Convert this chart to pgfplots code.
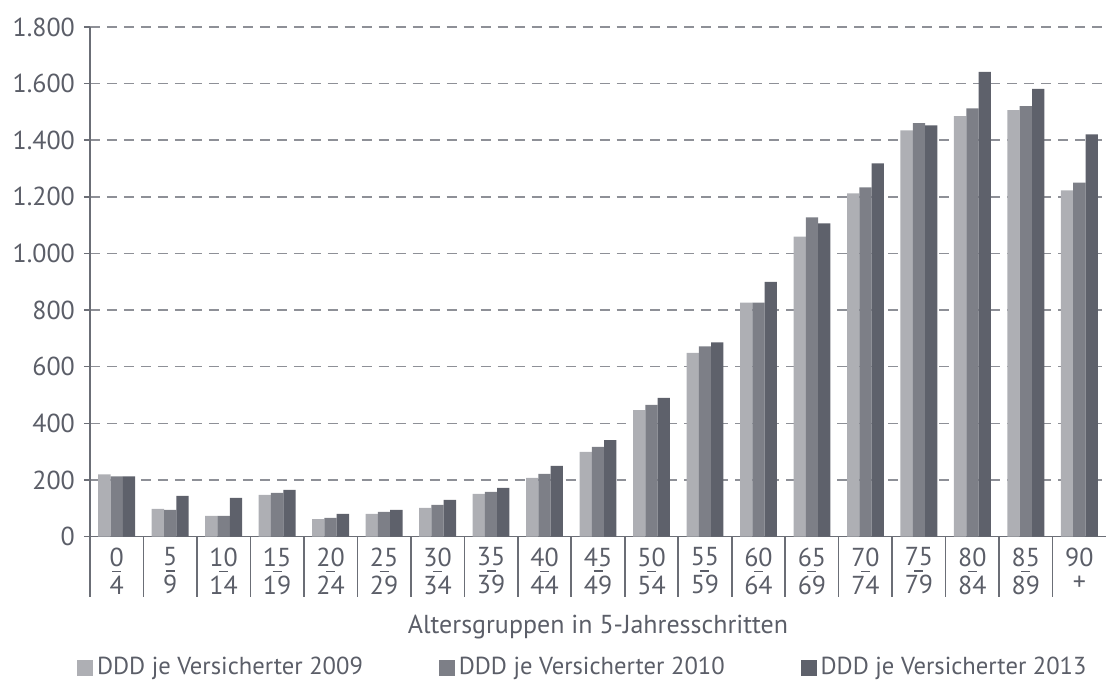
\documentclass[border=0pt]{standalone}
\usepackage{fontspec}
\setmainfont{PT Sans}
\usepackage{pgfplots}
\pgfplotsset{compat=1.18}
\definecolor{c2009}{HTML}{AEAFB4}
\definecolor{c2010}{HTML}{7D7F87}
\definecolor{c2013}{HTML}{5E616B}
\definecolor{txtgrey}{HTML}{5B5E68}
\definecolor{axgrey}{HTML}{6B6E76}
\definecolor{gridgrey}{HTML}{8E9097}

\pgfplotstableread{
x   y2009 y2010 y2013
0   220   213   213
1    98    94   144
2    73    73   137
3   147   154   165
4    62    66    80
5    80    87    94
6   101   112   130
7   151   158   172
8   207   221   250
9   299   317   341
10  447   465   490
11  649   672   686
12  826   826   900
13 1059  1127  1106
14 1212  1233  1318
15 1435  1460  1452
16 1485  1512  1641
17 1506  1520  1581
18 1223  1250  1421
}\ddd

\newcommand{\ag}[2]{#1\\[-11pt]\rule{4.5pt}{0.8pt}\\[-3pt]#2}

\begin{document}
\begin{tikzpicture}[font=\fontsize{13}{14}\selectfont, text=txtgrey]
\begin{axis}[
  scale only axis,
  width=508.5pt, height=255pt,
  clip=false,
  ymin=0, ymax=1800,
  ytick={0,200,...,1800},
  xmin=-0.5, xmax=18.5,
  xtick={0,...,18},
  xticklabels={{\ag{0}{4}},{\ag{5}{9}},{\ag{10}{14}},{\ag{15}{19}},{\ag{20}{24}},
    {\ag{25}{29}},{\ag{30}{34}},{\ag{35}{39}},{\ag{40}{44}},{\ag{45}{49}},
    {\ag{50}{54}},{\ag{55}{59}},{\ag{60}{64}},{\ag{65}{69}},{\ag{70}{74}},
    {\ag{75}{79}},{\ag{80}{84}},{\ag{85}{89}},{90\\[-2pt]+}},
  xticklabel style={align=center, text=txtgrey, yshift=1pt},
  yticklabel style={text=txtgrey, xshift=-1pt},
  /pgf/number format/.cd, 1000 sep={.}, assume math mode=true, /pgfplots/.cd,
  axis x line*=bottom, axis y line*=left,
  axis line style={axgrey, line width=0.9pt},
  tick align=outside,
  major tick length=3pt,
  xtick style={draw=none},
  ytick style={draw=axgrey, line width=0.8pt},
  ymajorgrids,
  major grid style={gridgrey, line width=0.8pt, dash pattern=on 5pt off 3.5pt},
  ybar=0pt, bar width=6.15pt,
  xlabel={Altersgruppen in 5-Jahresschritten},
  xlabel style={at={(axis description cs:0.5,-0.178)}, anchor=center, text=txtgrey},
  legend style={draw=none, fill=none, at={(0.486,-0.257)}, anchor=center,
    legend columns=3, text=txtgrey, font=\fontsize{12.3}{14}\selectfont,
    /tikz/every even column/.append style={column sep=36pt}},
  legend image code/.code={\fill[#1] (0pt,-4pt) rectangle (8pt,4pt);},
]
\addplot[fill=c2009, draw=none] table[x=x, y=y2009] {\ddd};
\addplot[fill=c2010, draw=none] table[x=x, y=y2010] {\ddd};
\addplot[fill=c2013, draw=none] table[x=x, y=y2013] {\ddd};
\legend{DDD je Versicherter 2009, DDD je Versicherter 2010, DDD je Versicherter 2013}
\pgfplotsinvokeforeach{-0.5,0.5,1.5,2.5,3.5,4.5,5.5,6.5,7.5,8.5,9.5,10.5,11.5,12.5,13.5,14.5,15.5,16.5,17.5}{
  \draw[axgrey, line width=0.8pt] (axis cs:#1,0) -- ++(0pt,-30pt);
}
% page margins as in the reference
\path (rel axis cs:0,0) ++(-45pt,-78pt);
\path (rel axis cs:1,1) ++(0pt,13.5pt);
\end{axis}
\end{tikzpicture}
\end{document}
